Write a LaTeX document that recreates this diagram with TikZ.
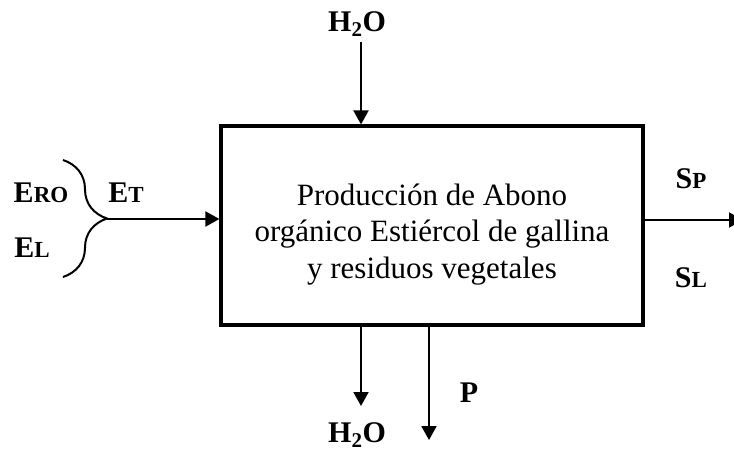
\documentclass[tikz,border=0pt]{standalone}
\usepackage{fontspec}
\setmainfont{Liberation Serif}
\usetikzlibrary{arrows.meta,positioning,decorations.pathreplacing}
\newcommand{\smcap}[1]{{\fontsize{23}{26}\selectfont #1}}

\begin{document}
\begin{tikzpicture}[x=1pt,y=-1pt,on grid,
    >={Triangle[length=14pt,width=15pt]},
    procbox/.style={draw,line width=3.2pt,minimum width=422pt,minimum height=199pt,
      align=center,inner sep=0pt,font=\fontsize{31}{36.5}\selectfont},
    flow/.style={->,line width=2pt},
    lbl/.style={font=\fontsize{30}{32}\selectfont\bfseries,inner sep=0pt}]
   \useasboundingbox (0,0) rectangle (734,450);
   \node[procbox] (box) at (432,225.5) {\rule{0pt}{39pt}Producción de Abono\\orgánico Estiércol de gallina\\y residuos vegetales};

   \coordinate (h2oin)  at (361,42);
   \coordinate (etip)   at (107,219);
   \coordinate (brtop)  at (63,160);
   \coordinate (brbot)  at (63,277);
   \coordinate (sout)   at (743,220);
   \coordinate (h2oout) at (361,406);
   \coordinate (pout)   at (429,440);

   \node[lbl] (h2oa) [above left=18pt and 4pt of h2oin,anchor=center]  {H\textsubscript{2}O};
   \node[lbl] (et)   [above right=26pt and 19pt of etip,anchor=center] {E\smcap{T}};
   \node[lbl] (ero)  [below left=33pt and 22pt of brtop,anchor=center] {E\smcap{RO}};
   \node[lbl] (el)   [above left=29pt and 31pt of brbot,anchor=center] {E\smcap{L}};
   \node[lbl] (sp)   [above left=41pt and 52pt of sout,anchor=center]  {S\smcap{P}};
   \node[lbl] (sl)   [below left=58pt and 52pt of sout,anchor=center]  {S\smcap{L}};
   \node[lbl] (h2ob) [below left=29pt and 4pt of h2oout,anchor=center] {H\textsubscript{2}O};
   \node[lbl] (p)    [above right=47pt and 40pt of pout,anchor=center] {P};

   \draw[line width=2pt,decorate,decoration={brace,amplitude=44pt}] (brtop) -- (brbot);
   \draw[flow] (h2oin) -- (h2oin |- box.north);
   \draw[flow] (etip) -- (etip -| box.west);
   \draw[flow] (sout -| box.east) -- (sout);
   \draw[flow] (h2oout |- box.south) -- (h2oout);
   \draw[flow] (pout |- box.south) -- (pout);
\end{tikzpicture}
\end{document}
